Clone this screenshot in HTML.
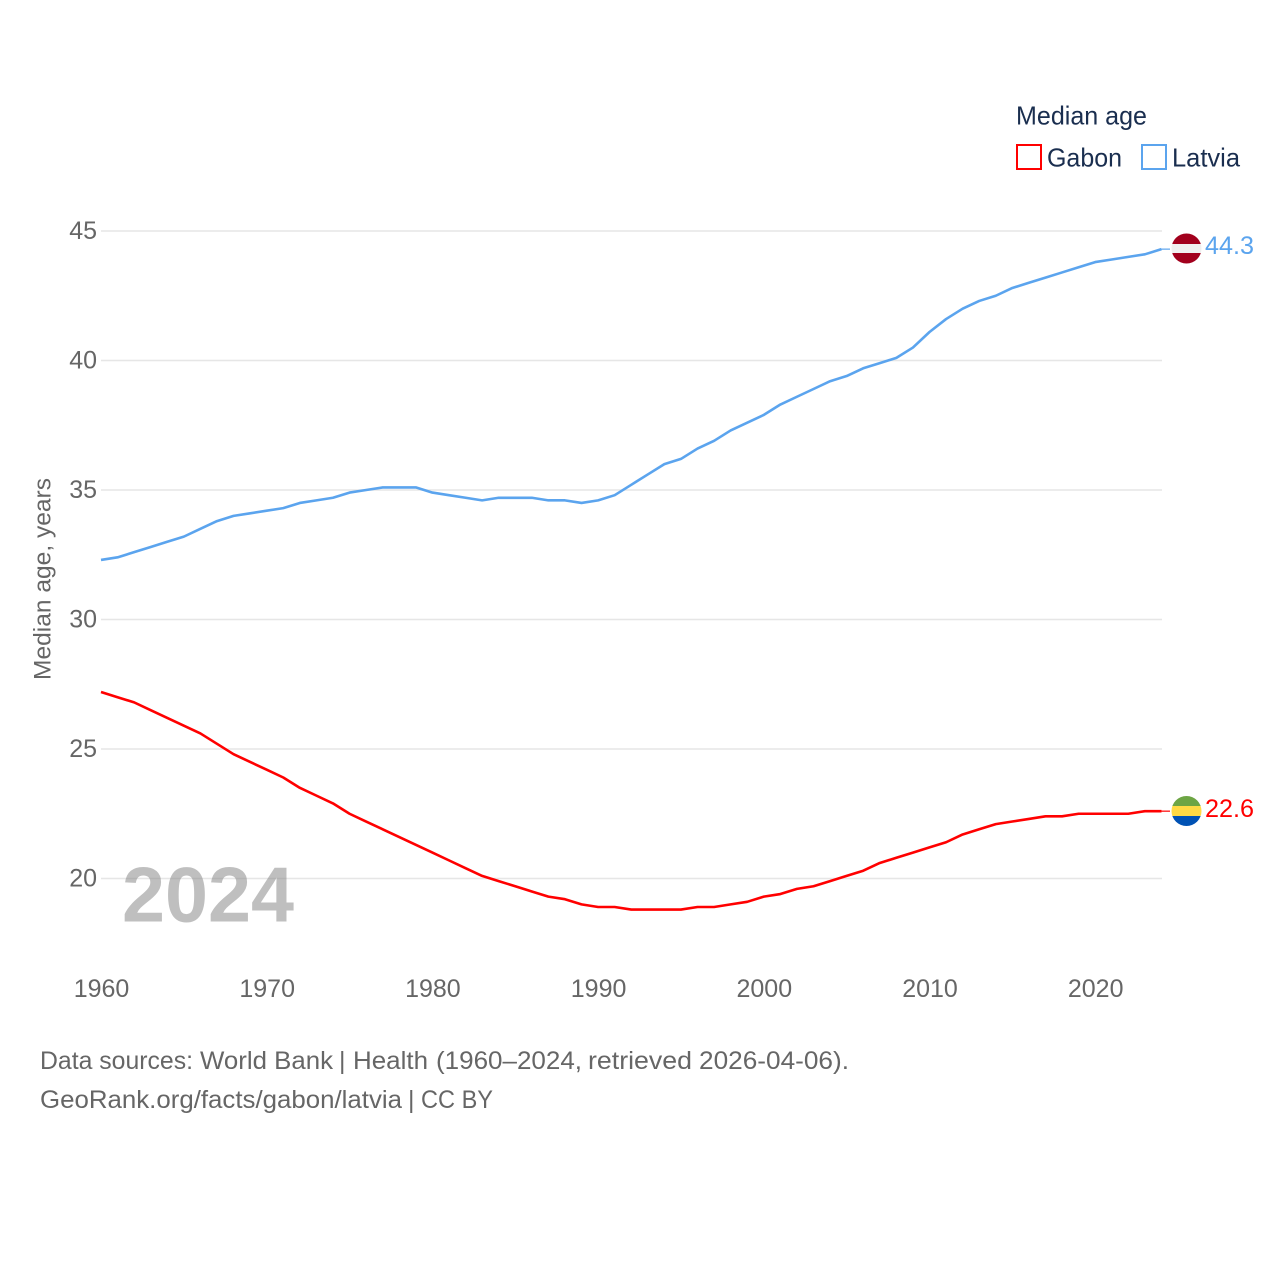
<!DOCTYPE html>
<html lang="en">
<head>
<meta charset="utf-8">
<title>Median age: Gabon and Latvia</title>
<style>
html,body{margin:0;padding:0;background:#fff;}
svg{display:block;}
text{font-family:"Liberation Sans",sans-serif;}
</style>
</head>
<body>
<svg id="chart" xmlns="http://www.w3.org/2000/svg" width="1280" height="1280" viewBox="0 0 1280 1280">
  <rect width="1280" height="1280" fill="#fff"/>
  <defs>
    <clipPath id="flag-clip-latvia"><circle cx="1186.5" cy="248.5" r="15"/></clipPath>
    <clipPath id="flag-clip-gabon"><circle cx="1186.5" cy="811" r="15"/></clipPath>
  </defs>
  <g id="grid"></g>
  <g id="yticks"></g>
  <g id="xticks"></g>
  <text transform="translate(50.5,579) rotate(-90)" text-anchor="middle" font-size="24" fill="#666" textLength="202" lengthAdjust="spacingAndGlyphs">Median age, years</text>
  <text x="122" y="921.5" font-size="78" font-weight="700" fill="#808080" fill-opacity="0.5" textLength="172" lengthAdjust="spacingAndGlyphs">2024</text>
  <g id="series"></g>
  <g clip-path="url(#flag-clip-latvia)">
    <rect x="1171" y="233" width="31" height="11" fill="#a2001d"/>
    <rect x="1171" y="244" width="31" height="9" fill="#f0f0f0"/>
    <rect x="1171" y="253" width="31" height="11" fill="#a2001d"/>
  </g>
  <g clip-path="url(#flag-clip-gabon)">
    <rect x="1171" y="795" width="31" height="11" fill="#6da544"/>
    <rect x="1171" y="806" width="31" height="10" fill="#ffda44"/>
    <rect x="1171" y="816" width="31" height="11" fill="#0052b4"/>
  </g>
  <text x="1205" y="254" font-size="25" fill="#5ba4ee" textLength="49" lengthAdjust="spacingAndGlyphs">44.3</text>
  <text x="1205" y="817" font-size="25" fill="#ff0000" textLength="49" lengthAdjust="spacingAndGlyphs">22.6</text>
  <g>
    <text x="1016" y="124.5" font-size="26" fill="#1a2e4f" textLength="131" lengthAdjust="spacingAndGlyphs">Median age</text>
    <g>
      <rect x="1017" y="145" width="24" height="24" fill="none" stroke="#ff0000" stroke-width="2"/>
      <text x="1047" y="166.5" font-size="26" fill="#1a2e4f" textLength="75" lengthAdjust="spacingAndGlyphs">Gabon</text>
    </g>
    <g>
      <rect x="1142" y="145" width="24" height="24" fill="none" stroke="#5ba4ee" stroke-width="2"/>
      <text x="1172" y="166.5" font-size="26" fill="#1a2e4f" textLength="68" lengthAdjust="spacingAndGlyphs">Latvia</text>
    </g>
  </g>
  <g font-size="25" fill="#666">
    <text x="40" y="1069" textLength="153" lengthAdjust="spacingAndGlyphs">Data sources:</text>
    <text x="200" y="1069" textLength="133" lengthAdjust="spacingAndGlyphs">World Bank</text>
    <text x="339" y="1069">|</text>
    <text x="353" y="1069" textLength="75" lengthAdjust="spacingAndGlyphs">Health</text>
    <text x="436" y="1069" textLength="146" lengthAdjust="spacingAndGlyphs">(1960–2024,</text>
    <text x="588" y="1069" textLength="104" lengthAdjust="spacingAndGlyphs">retrieved</text>
    <text x="699" y="1069" textLength="150" lengthAdjust="spacingAndGlyphs">2026-04-06).</text>
  </g>
  <g font-size="25" fill="#666">
    <text x="40" y="1108" textLength="362" lengthAdjust="spacingAndGlyphs">GeoRank.org/facts/gabon/latvia</text>
    <text x="408" y="1108">|</text>
    <text x="421" y="1108" textLength="72" lengthAdjust="spacingAndGlyphs">CC BY</text>
  </g>
</svg>
<script>
const years = [1960,1961,1962,1963,1964,1965,1966,1967,1968,1969,1970,1971,1972,1973,1974,1975,1976,1977,1978,1979,1980,1981,1982,1983,1984,1985,1986,1987,1988,1989,1990,1991,1992,1993,1994,1995,1996,1997,1998,1999,2000,2001,2002,2003,2004,2005,2006,2007,2008,2009,2010,2011,2012,2013,2014,2015,2016,2017,2018,2019,2020,2021,2022,2023,2024];
const latvia = [32.3,32.4,32.6,32.8,33.0,33.2,33.5,33.8,34.0,34.1,34.2,34.3,34.5,34.6,34.7,34.9,35.0,35.1,35.1,35.1,34.9,34.8,34.7,34.6,34.7,34.7,34.7,34.6,34.6,34.5,34.6,34.8,35.2,35.6,36.0,36.2,36.6,36.9,37.3,37.6,37.9,38.3,38.6,38.9,39.2,39.4,39.7,39.9,40.1,40.5,41.1,41.6,42.0,42.3,42.5,42.8,43.0,43.2,43.4,43.6,43.8,43.9,44.0,44.1,44.3];
const gabon = [27.2,27.0,26.8,26.5,26.2,25.9,25.6,25.2,24.8,24.5,24.2,23.9,23.5,23.2,22.9,22.5,22.2,21.9,21.6,21.3,21.0,20.7,20.4,20.1,19.9,19.7,19.5,19.3,19.2,19.0,18.9,18.9,18.8,18.8,18.8,18.8,18.9,18.9,19.0,19.1,19.3,19.4,19.6,19.7,19.9,20.1,20.3,20.6,20.8,21.0,21.2,21.4,21.7,21.9,22.1,22.2,22.3,22.4,22.4,22.5,22.5,22.5,22.5,22.6,22.6];
const yTickValues = [20,25,30,35,40,45];
const xTickValues = [1960,1970,1980,1990,2000,2010,2020];

const NS = 'http://www.w3.org/2000/svg';
const xScale = function (year) { return 101 + (year - 1960) * 16.57; };
const yScale = function (v) { return 878.5 - (v - 20) * 25.9; };

const grid = document.getElementById('grid');
const yticks = document.getElementById('yticks');
const xticks = document.getElementById('xticks');
const seriesGroup = document.getElementById('series');

yTickValues.forEach(function (v) {
  const line = document.createElementNS(NS, 'line');
  
  
  line.setAttribute('x1', 101);
  line.setAttribute('x2', 1162);
  line.setAttribute('y1', yScale(v));
  line.setAttribute('y2', yScale(v));
  line.setAttribute('stroke', '#e6e6e6');
  line.setAttribute('stroke-width', '1.4');
  grid.appendChild(line);

  const label = document.createElementNS(NS, 'text');
  
  
  label.setAttribute('x', 97);
  label.setAttribute('y', yScale(v) + 8);
  label.setAttribute('text-anchor', 'end');
  label.setAttribute('font-size', '25');
  label.setAttribute('fill', '#666');
  label.textContent = String(v);
  yticks.appendChild(label);
});

xTickValues.forEach(function (year) {
  const label = document.createElementNS(NS, 'text');
  
  
  label.setAttribute('x', xScale(year) + 0.5);
  label.setAttribute('y', 997);
  label.setAttribute('text-anchor', 'middle');
  label.setAttribute('font-size', '25');
  label.setAttribute('fill', '#666');
  label.textContent = String(year);
  xticks.appendChild(label);
});

function seriesPoints(values) {
  return values.map(function (v, i) {
    return xScale(years[i]).toFixed(2) + ',' + yScale(v).toFixed(2);
  }).join(' ');
}

function lastY(values) {
  return yScale(values[values.length - 1]);
}

const gabonLine = document.createElementNS(NS, 'polyline');


gabonLine.setAttribute('points', seriesPoints(gabon));
gabonLine.setAttribute('fill', 'none');
gabonLine.setAttribute('stroke', '#ff0000');
gabonLine.setAttribute('stroke-width', '2.6');
gabonLine.setAttribute('stroke-linejoin', 'round');
seriesGroup.appendChild(gabonLine);

const latviaLine = document.createElementNS(NS, 'polyline');


latviaLine.setAttribute('points', seriesPoints(latvia));
latviaLine.setAttribute('fill', 'none');
latviaLine.setAttribute('stroke', '#5ba4ee');
latviaLine.setAttribute('stroke-width', '2.6');
latviaLine.setAttribute('stroke-linejoin', 'round');
seriesGroup.appendChild(latviaLine);

const gabonConnector = document.createElementNS(NS, 'line');


gabonConnector.setAttribute('x1', xScale(2024));
gabonConnector.setAttribute('x2', 1170);
gabonConnector.setAttribute('y1', lastY(gabon));
gabonConnector.setAttribute('y2', lastY(gabon));
gabonConnector.setAttribute('stroke', '#ff0000');
gabonConnector.setAttribute('stroke-width', '1.2');
seriesGroup.appendChild(gabonConnector);

const latviaConnector = document.createElementNS(NS, 'line');


latviaConnector.setAttribute('x1', xScale(2024));
latviaConnector.setAttribute('x2', 1170);
latviaConnector.setAttribute('y1', lastY(latvia));
latviaConnector.setAttribute('y2', lastY(latvia));
latviaConnector.setAttribute('stroke', '#5ba4ee');
latviaConnector.setAttribute('stroke-width', '1.2');
seriesGroup.appendChild(latviaConnector);
</script>
</body>
</html>
